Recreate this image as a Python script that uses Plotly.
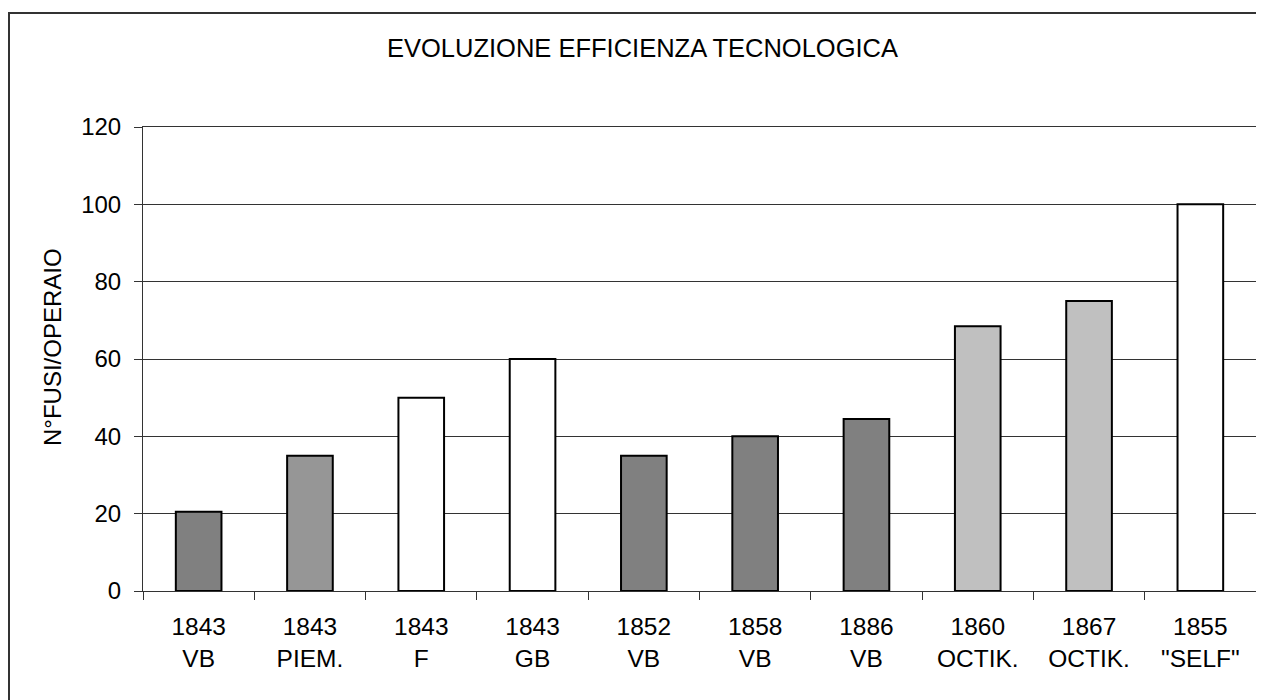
import plotly.graph_objects as go

years = ["1843", "1843", "1843", "1843", "1852", "1858", "1886", "1860", "1867", "1855"]
places = ["VB", "PIEM.", "F", "GB", "VB", "VB", "VB", "OCTIK.", "OCTIK.", "\"SELF\""]
values = [20.5, 35, 50, 60, 35, 40, 44.5, 68.5, 75, 100]
bar_colors = ["#808080", "#969696", "#FFFFFF", "#FFFFFF", "#808080",
              "#808080", "#808080", "#C0C0C0", "#C0C0C0", "#FFFFFF"]
y_ticks = [0, 20, 40, 60, 80, 100, 120]

categories = [f"{y}<br>{p}" for y, p in zip(years, places)]

FONT = "Liberation Sans, Arial, sans-serif"
W, H = 1264, 700
L, R, T, B = 135, 16, 119, 117
pw, ph = W - L - R, H - T - B

fig = go.Figure(go.Bar(
    x=categories, y=values,
    marker=dict(color=bar_colors, line=dict(color="#000000", width=2)),
    hoverinfo="x+y",
))

fig.update_layout(
    width=W, height=H,
    margin=dict(l=L, r=R, t=T, b=B),
    paper_bgcolor="white", plot_bgcolor="white",
    bargap=0.59,
    showlegend=False,
    font=dict(family=FONT, size=24, color="#000000"),
    title=dict(text="EVOLUZIONE EFFICIENZA TECNOLOGICA",
               x=634.5 / W, xanchor="center", xref="container",
               y=1 - 40 / H, yanchor="middle", yref="container",
               font=dict(family=FONT, size=25.5, color="#000000")),
)

fig.update_xaxes(
    type="category", tickson="boundaries",
    ticks="outside", ticklen=8, tickcolor="#333333", tickwidth=1,
    showline=True, linecolor="#333333", linewidth=1, mirror=True,
    showgrid=False, tickfont=dict(family=FONT, size=24.5, color="#000000"),
    tickangle=0, ticklabelstandoff=14,
)
fig.update_yaxes(
    range=[0, 120], tickvals=y_ticks,
    ticks="outside", ticklen=8, tickcolor="#333333", tickwidth=1,
    showline=True, linecolor="#333333", linewidth=1, mirror=True,
    showgrid=True, gridcolor="#333333", gridwidth=1, zeroline=False,
    tickfont=dict(family=FONT, size=24, color="#000000"),
    ticklabelstandoff=8,
)

fig.add_annotation(
    text="N°FUSI/OPERAIO", textangle=-90,
    xref="paper", yref="paper",
    x=(44 - L) / pw, y=(H - B - 339) / ph,
    xanchor="center", yanchor="middle", showarrow=False,
    font=dict(family=FONT, size=24, color="#000000"),
)

# outer chart border
fig.add_shape(
    type="rect", xref="paper", yref="paper",
    x0=(1 - L) / pw, x1=(1275 - L) / pw,
    y0=(H - B - 720) / ph, y1=(H - B - 5) / ph,
    line=dict(color="#333333", width=2), fillcolor="rgba(0,0,0,0)",
    layer="below",
)

fig.write_html("out.html")
